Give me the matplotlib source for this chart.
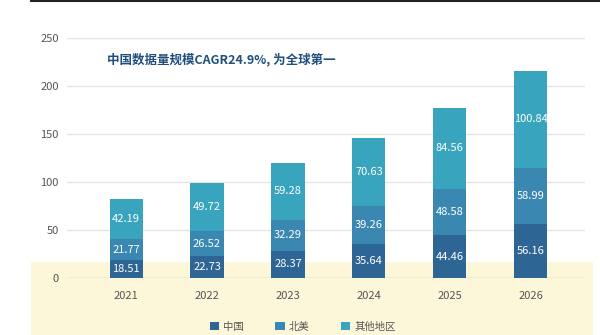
import matplotlib
matplotlib.use('Agg')
import matplotlib.pyplot as plt
from matplotlib.patches import Rectangle
from matplotlib.lines import Line2D
import numpy as np

plt.rcParams['font.family'] = ['Noto Sans CJK SC', 'DejaVu Sans']

years = ['2021', '2022', '2023', '2024', '2025', '2026']
china = [18.51, 22.73, 28.37, 35.64, 44.46, 56.16]
north_america = [21.77, 26.52, 32.29, 39.26, 48.58, 58.99]
others = [42.19, 49.72, 59.28, 70.63, 84.56, 100.84]
series_names = ['中国', '北美', '其他地区']
colors = ['#2d6594', '#3a87b2', '#39a4bd']
title = '中国数据量规模CAGR24.9%, 为全球第一'

fig = plt.figure(figsize=(6, 3.35), dpi=100)
fig.patch.set_facecolor('white')

# pale band along the bottom and thin rule along the top
fig.patches.append(Rectangle((0.052, 0), 0.937, 0.218, transform=fig.transFigure,
                             facecolor='#fdf7d9', edgecolor='none', zorder=-5))
fig.lines.append(Line2D([0.052, 1.0], [0.996, 0.996], transform=fig.transFigure,
                        color='#222222', lw=1.5, zorder=1))

ax = fig.add_axes([0.1117, 0.170, 0.8633, 0.7164])
ax.set_facecolor('none')

x = np.arange(len(years))
w = 0.41
bottom = np.zeros(len(years))
for vals, name, c in zip([china, north_america, others], series_names, colors):
    vals = np.array(vals)
    ax.bar(x, vals, w, bottom=bottom, color=c, label=name, zorder=3)
    for xi, b, v in zip(x, bottom, vals):
        ax.text(xi, b + v / 2, f'{v:.2f}', ha='center', va='center',
                color='white', fontsize=8, zorder=4)
    bottom += vals

ax.set_xlim(-0.73, 5.67)
ax.set_ylim(0, 250)
ax.set_yticks(range(0, 251, 50))
ax.set_xticks(x)
ax.set_xticklabels(years)
ax.yaxis.grid(True, color='#e4e4e4', lw=1, zorder=0)
ax.axhline(0, color='#d2d2d2', lw=1, zorder=1)
for s in ax.spines.values():
    s.set_visible(False)
ax.tick_params(axis='both', length=0, labelsize=8, labelcolor='#555555')
ax.tick_params(axis='y', pad=6)
ax.tick_params(axis='x', pad=9)

fig.text(0.178, 0.821, title, fontsize=9, fontweight='bold', color='#1f4f7e',
         va='center', ha='left')

fig.legend(loc='center', bbox_to_anchor=(0.505, 0.025), ncol=3, frameon=False,
           fontsize=7.5, handlelength=0.9, handleheight=0.9, handletextpad=0.4,
           columnspacing=3.0, labelcolor='#555555')

fig.savefig('out.png', dpi=100)
